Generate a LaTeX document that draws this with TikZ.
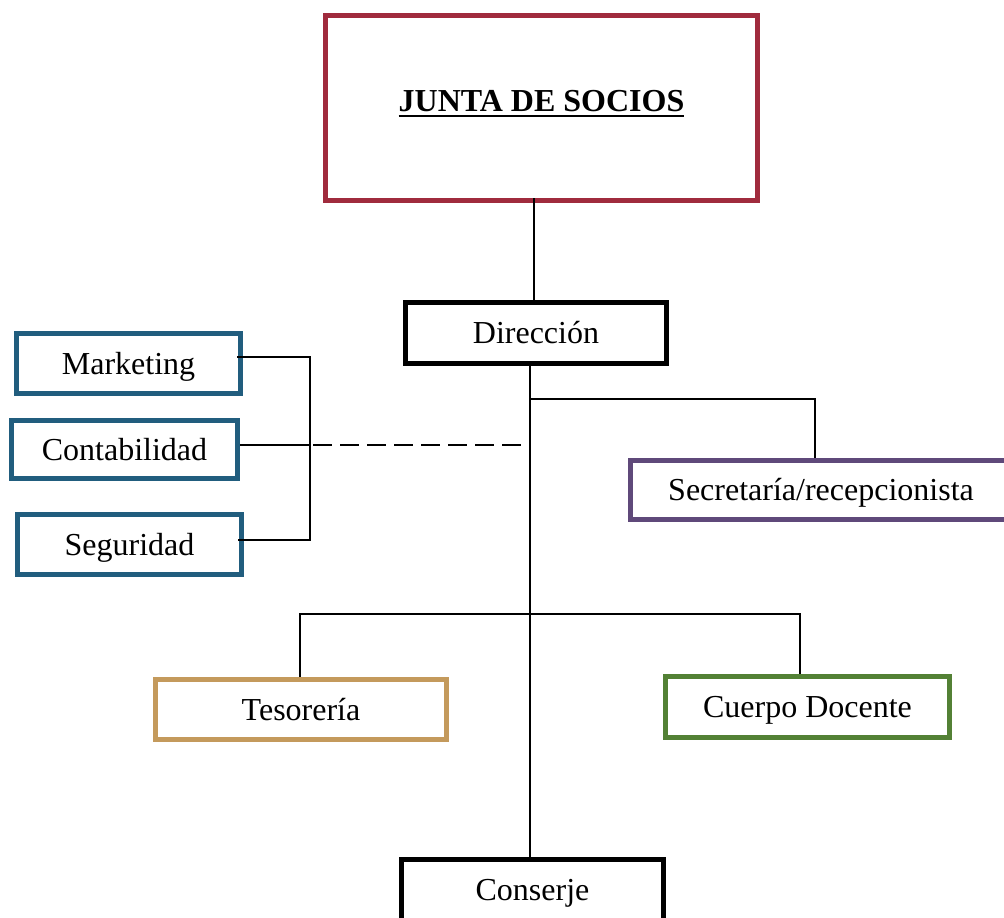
\documentclass[tikz,border=0pt]{standalone}
\usepackage{fontspec}
\setmainfont{Liberation Serif}
\definecolor{cjunta}{HTML}{A02B3D}
\definecolor{cblue}{HTML}{215D7E}
\definecolor{cpurple}{HTML}{5F497A}
\definecolor{ctan}{HTML}{C49A5C}
\definecolor{cgreen}{HTML}{538135}
\newcommand\myul[1]{\setbox0\hbox{#1}\rlap{\usebox0}\rule[-6.3pt]{\wd0}{2.5pt}}
\begin{document}
\begin{tikzpicture}[x=1pt,y=-1pt,
  orgbox/.style={draw=#1, line width=5pt, fill=white, inner sep=0pt,
    text height=24pt, text depth=3pt, font=\fontsize{32}{38}\selectfont},
  link/.style={line width=2pt},
  dlink/.style={line width=1.4pt, dash pattern=on 19pt off 8pt}]
\useasboundingbox (0,0) rectangle (1004,918);

\node[orgbox=cjunta, minimum width=432pt, minimum height=185pt] (junta) at (541.5,108)
  {\raisebox{7.5pt}{\bfseries\myul{JUNTA DE SOCIOS}}};
\node[orgbox=black, minimum width=261pt, minimum height=61pt] (dir) at (536,333) {Dirección};
\node[orgbox=cblue, minimum width=224pt, minimum height=60pt] (mkt) at (128.5,363.5) {Marketing};
\node[orgbox=cblue, minimum width=226pt, minimum height=58pt] (cont) at (124.5,449.5) {Contabilidad};
\node[orgbox=cblue, minimum width=224pt, minimum height=60pt] (seg) at (129.5,544.5) {Seguridad};
\node[orgbox=cpurple, minimum width=381pt, minimum height=59pt] (sec) at (821,490) {Secretaría/recepcionista};
\node[orgbox=ctan, minimum width=291pt, minimum height=60pt] (tes) at (301,709.5) {Tesorería};
\node[orgbox=cgreen, minimum width=284pt, minimum height=61pt] (doc) at (807.5,707) {Cuerpo Docente};
\node[orgbox=black, minimum width=262pt, minimum height=61pt] (cons) at (532.5,890) {Conserje};

\coordinate (jx) at (534,0);
\coordinate (tx) at (530,0);
\draw[link] ([yshift=5pt]junta.south -| jx) -- (dir.north -| jx);
\draw[link] (dir.south -| tx) -- (cons.north -| tx);

\coordinate (s1) at (530,399);
\coordinate (s2) at (815,399);
\draw[link] (s1) -- (s2) -- (s2 |- sec.north);

\coordinate (b1) at (300,614);
\coordinate (b2) at (800,614);
\draw[link] (b1 |- tes.north) -- (b1) -- (b2) -- (b2 |- doc.north);

\coordinate (l1) at (310,357);
\coordinate (l2) at (310,445);
\coordinate (l3) at (310,540);
\draw[link] ([xshift=-6pt]l1 -| mkt.east) -- (l1) -- (l3) -- ([xshift=-6pt]l3 -| seg.east);
\draw[link] (l2 -| cont.east) -- (l2);

\coordinate (d1) at (313,445);
\coordinate (d2) at (522,445);
\draw[dlink] (d1) -- (d2);
\end{tikzpicture}
\end{document}
